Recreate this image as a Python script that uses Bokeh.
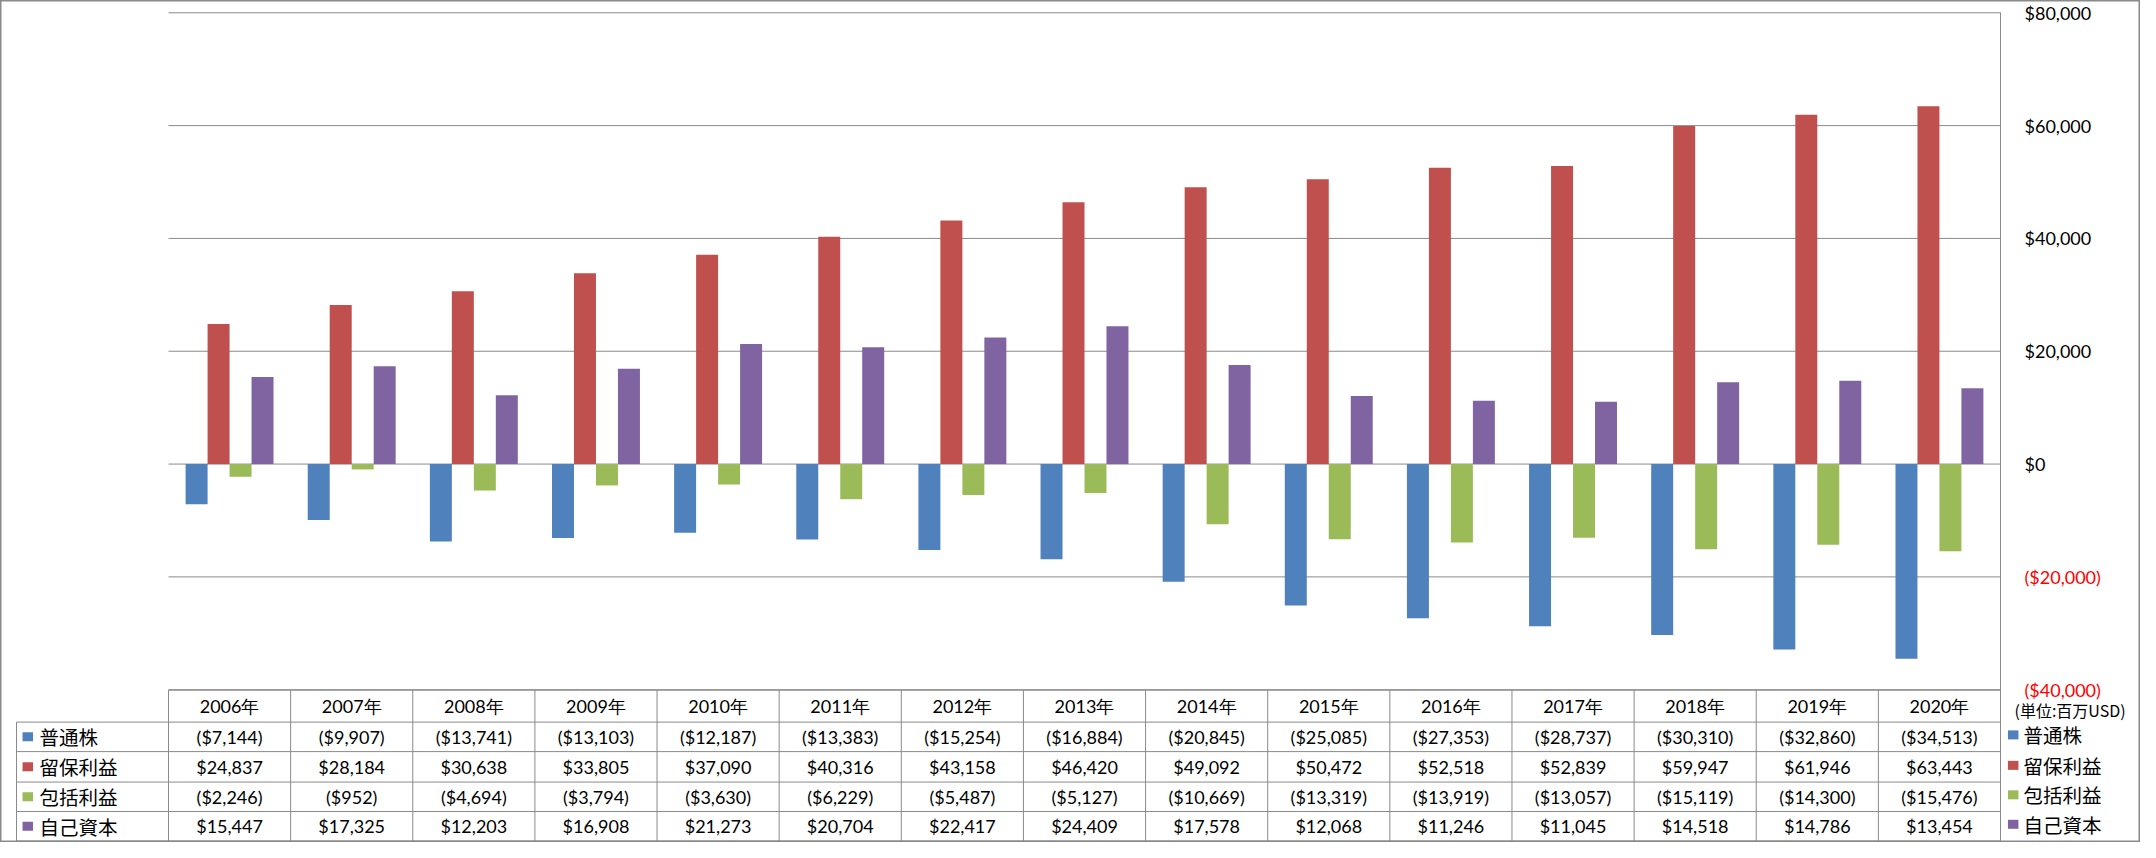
from bokeh.plotting import figure
from bokeh.models import Range1d, LinearAxis, FixedTicker, CustomJSTickFormatter
from bokeh.core.properties import value
from bokeh.embed import file_html
from bokeh.resources import INLINE

# ---------------- data ----------------
years = ["2006年", "2007年", "2008年", "2009年", "2010年", "2011年", "2012年", "2013年",
         "2014年", "2015年", "2016年", "2017年", "2018年", "2019年", "2020年"]
series_names = ["普通株", "留保利益", "包括利益", "自己資本"]
common_stock = [-7144, -9907, -13741, -13103, -12187, -13383, -15254, -16884,
                -20845, -25085, -27353, -28737, -30310, -32860, -34513]
retained_earnings = [24837, 28184, 30638, 33805, 37090, 40316, 43158, 46420,
                     49092, 50472, 52518, 52839, 59947, 61946, 63443]
comprehensive_income = [-2246, -952, -4694, -3794, -3630, -6229, -5487, -5127,
                        -10669, -13319, -13919, -13057, -15119, -14300, -15476]
equity = [15447, 17325, 12203, 16908, 21273, 20704, 22417, 24409,
          17578, 12068, 11246, 11045, 14518, 14786, 13454]
series_values = [common_stock, retained_earnings, comprehensive_income, equity]
pos_ticks = [0, 20000, 40000, 60000, 80000]
neg_ticks = [-40000, -20000]
unit_label = "(単位:百万USD)"

# ---------------- styles / layout ----------------
colors = ["#4F81BD", "#C0504D", "#9BBB59", "#8064A2"]
LINE = "#8A8A8A"
NUM_FONT = "Lato"
JP_FONT = "Noto Sans CJK JP"
NUM_SIZE = "18px"
W, H = 2140, 842


def fy(ref_y):
    """vertical layout position (pixels from top)"""
    return (ref_y - 1) * 840.0 / 855.0 + 0.5


PLOT_L, PLOT_R = 168.0, 2000.0
PLOT_T, PLOT_B = fy(13), fy(702)      # pixel rows of the top and bottom tick
Y_TOP, Y_BOT = 80000, -40000
n = len(years)
col_w = (PLOT_R - PLOT_L) / n
x_start = -0.5 - PLOT_L / col_w
x_end = n - 0.5 + (W - PLOT_R) / col_w
per_px = (Y_TOP - Y_BOT) / (PLOT_B - PLOT_T)
y_start = Y_BOT - (H - PLOT_B) * per_px
y_end = Y_TOP + PLOT_T * per_px

HEADER_TOP = fy(702.5)
ROW_LINES = [fy(735), fy(765), fy(796), fy(826), fy(856)]
HEADER_Y = (HEADER_TOP + ROW_LINES[0]) / 2
ROW_Y = [(ROW_LINES[i] + ROW_LINES[i + 1]) / 2 for i in range(4)]
LEG_Y = [fy(748), fy(779), fy(809), fy(839)]
ROW_COL_L = 16.0
bar_w = 0.18
offsets = [-0.27, -0.09, 0.09, 0.27]

p = figure(width=W, height=H,
           x_range=Range1d(x_start, x_end), y_range=Range1d(y_start, y_end),
           output_backend="svg", toolbar_location=None,
           x_axis_location=None, y_axis_location=None,
           min_border=0, min_border_left=0, min_border_right=0,
           min_border_top=0, min_border_bottom=0)
p.extra_x_ranges = {"px": Range1d(0, W)}
p.extra_y_ranges = {"py": Range1d(H, 0)}
p.grid.visible = False
p.outline_line_color = LINE
p.outline_line_width = 2
p.background_fill_color = "white"
p.border_fill_color = "white"

# gridlines
grid_vals = neg_ticks + pos_ticks
p.segment(x0=[-0.5] * len(grid_vals), x1=[n - 0.5] * len(grid_vals), y0=grid_vals, y1=grid_vals,
          line_color=LINE, line_width=1)

# bars
for k in range(4):
    xs = [i + offsets[k] for i in range(n)]
    p.vbar(x=xs, top=series_values[k], bottom=0, width=bar_w,
           fill_color=colors[k], line_color=None)

# right axes (fixed at the plot's right edge)
fmt = CustomJSTickFormatter(code="""
const a = Math.abs(tick).toLocaleString('en-US');
return tick < 0 ? '($' + a + ')' : '$' + a;
""")
for ticks, col, show_line in [(pos_ticks, "#000000", True), (neg_ticks, "#FF0000", False)]:
    ax = LinearAxis(ticker=FixedTicker(ticks=ticks, minor_ticks=[]), formatter=fmt,
                    fixed_location=n - 0.5, bounds=(y_start, Y_TOP))
    ax.major_tick_line_color = None
    ax.minor_tick_line_color = None
    ax.axis_line_color = LINE if show_line else None
    ax.major_label_standoff = 18
    ax.major_label_text_font = NUM_FONT
    ax.major_label_text_font_size = NUM_SIZE
    ax.major_label_text_color = col
    p.add_layout(ax, "right")

# ---------------- data table ----------------
h_x0 = [PLOT_L] + [ROW_COL_L] * 5
h_x1 = [PLOT_R] * 6
h_y = [HEADER_TOP] + ROW_LINES
p.segment(x0=h_x0, x1=h_x1, y0=h_y, y1=h_y, x_range_name="px", y_range_name="py",
          line_color=LINE, line_width=1)
v_x = [PLOT_L + k * col_w for k in range(n)] + [ROW_COL_L]
v_y0 = [HEADER_TOP] * n + [ROW_LINES[0]]
v_y1 = [ROW_LINES[-1]] * (n + 1)
p.segment(x0=v_x, x1=v_x, y0=v_y0, y1=v_y1, x_range_name="px", y_range_name="py",
          line_color=LINE, line_width=1)

p.text(x=list(range(n)), y=[HEADER_Y] * n, text=years, y_range_name="py",
       text_align="center", text_baseline="middle", text_font=value(NUM_FONT),
       text_font_size=NUM_SIZE, text_color="#000000")


def fmt_money(v):
    return f"(${abs(v):,})" if v < 0 else f"${v:,}"


for k in range(4):
    p.text(x=list(range(n)), y=[ROW_Y[k]] * n, text=[fmt_money(v) for v in series_values[k]],
           y_range_name="py", text_align="center", text_baseline="middle",
           text_font=value(NUM_FONT), text_font_size=NUM_SIZE, text_color="#000000")

# row labels (left) and legend (right)
for lx, tx, ys in [(27.3, 39.0, ROW_Y), (2012.7, 2023.0, LEG_Y)]:
    p.rect(x=[lx] * 4, y=ys, width=10.5, height=9, width_units="screen", height_units="screen",
           x_range_name="px", y_range_name="py", fill_color=colors, line_color=None)
    p.text(x=[tx] * 4, y=ys, text=series_names, x_range_name="px", y_range_name="py",
           text_align="left", text_baseline="middle", text_font=value(JP_FONT),
           text_font_size="19.5px", text_color="#000000")

p.text(x=[2014.0], y=[fy(723)], text=[unit_label], x_range_name="px", y_range_name="py",
       text_align="left", text_baseline="middle", text_font=value(JP_FONT),
       text_font_size="16px", text_color="#000000")

open("out.html", "w").write(file_html(p, INLINE))
